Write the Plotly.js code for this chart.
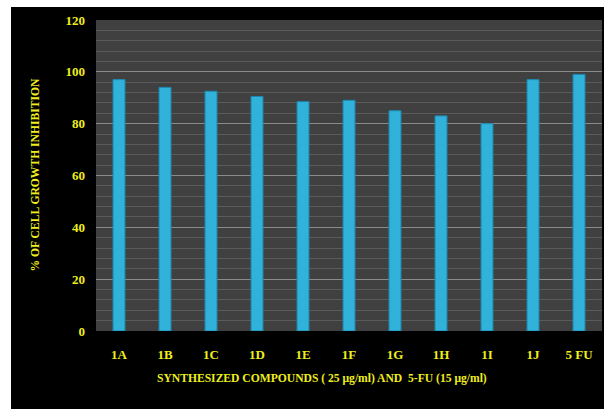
<!DOCTYPE html>
<html><head><meta charset="utf-8">
<script src="https://cdn.plot.ly/plotly-3.0.1.min.js"></script>
<style>
html,body{margin:0;padding:0;background:#ffffff;width:604px;height:409px;overflow:hidden;}
#chart{position:absolute;left:11px;top:7px;width:593px;height:402px;}
</style></head>
<body><div id="chart"></div>
<script>
const categories = ["1A","1B","1C","1D","1E","1F","1G","1H","1I","1J","5 FU"];
const inhibition = [97, 94, 92.5, 90.5, 88.5, 89, 85, 83, 80, 97, 99];
const yTicks = [0, 20, 40, 60, 80, 100, 120];
const xTitle = "SYNTHESIZED COMPOUNDS ( 25 μg/ml) AND  5-FU (15 μg/ml)";
const yTitle = "% OF CELL GROWTH INHIBITION";

const yellow = "#eeee1e";
const family = "Liberation Serif, Times New Roman, serif";
const tickFont = {family: family, color: yellow, size: 13, weight: "bold"};
const titleFont = {family: family, color: yellow, size: 11.6, weight: "bold"};

const trace = {
  type: "bar",
  x: categories,
  y: inhibition,
  marker: {color: "#30b2da", line: {color: "#1c8ab2", width: 1}},
  hoverinfo: "x+y"
};

const layout = {
  width: 593, height: 402,
  margin: {l: 85, r: 2, t: 13, b: 78},
  paper_bgcolor: "#000000",
  plot_bgcolor: "#404040",
  bargap: 0.74,
  showlegend: false,
  xaxis: {
    type: "category",
    tickfont: tickFont,
    ticks: "", showgrid: false, zeroline: false, showline: false,
    ticklabelstandoff: 14
  },
  yaxis: {
    range: [0, 120],
    tickvals: yTicks,
    ticktext: yTicks.map(String),
    tickfont: tickFont,
    ticks: "",
    gridcolor: "#8a8a8a", gridwidth: 1,
    minor: {dtick: 4, showgrid: true, gridcolor: "#5a5a5a", gridwidth: 1},
    zeroline: false, showline: false,
    ticklabelstandoff: 10
  },
  annotations: [
    {text: xTitle, xref: "paper", yref: "paper", x: 0.447, y: 0, yshift: -47,
     xanchor: "center", yanchor: "middle", showarrow: false, font: titleFont},
    {text: yTitle, xref: "paper", yref: "paper", x: 0, xshift: -61, y: 0.5,
     xanchor: "center", yanchor: "middle", textangle: -90, showarrow: false, font: titleFont}
  ]
};

Plotly.newPlot("chart", [trace], layout, {displayModeBar: false, staticPlot: true});
</script></body></html>
